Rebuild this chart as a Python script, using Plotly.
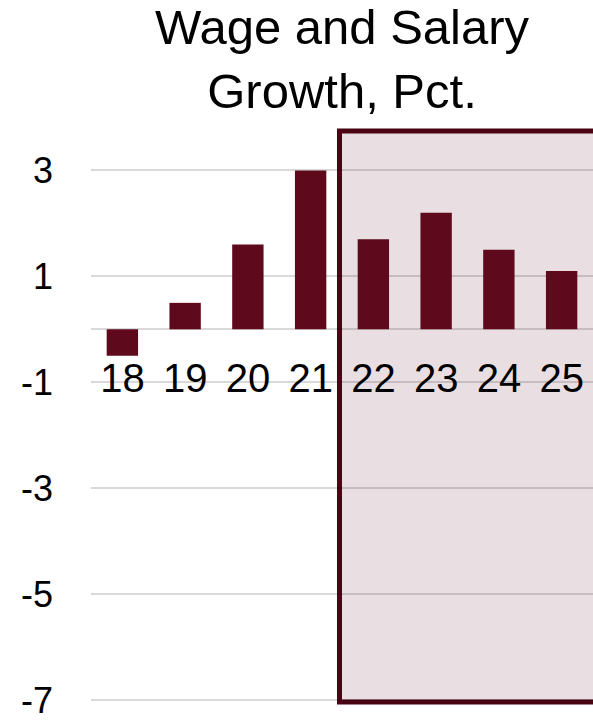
import plotly.graph_objects as go

categories = ["18", "19", "20", "21", "22", "23", "24", "25"]
growth = [-0.5, 0.5, 1.6, 3.0, 1.7, 2.2, 1.5, 1.1]
y_ticks = [3, 1, -1, -3, -5, -7]
title_text = "Wage and Salary<br>Growth, Pct."

W, H = 593, 721
ML, MR, MT, MB = 91, 0, 128, 16
ymin, ymax = -7.09, 3.8
xmin, xmax = -0.5, 7.5

fig = go.Figure()
fig.add_trace(go.Bar(
    x=list(range(len(categories))), y=growth,
    marker=dict(color="#5e0a1c", line=dict(width=0)),
    width=0.5, showlegend=False, hoverinfo="skip",
))

zero_pos = (0 - ymin) / (ymax - ymin)
fig.update_layout(
    width=W, height=H,
    margin=dict(l=ML, r=MR, t=MT, b=MB, pad=0),
    paper_bgcolor="white", plot_bgcolor="rgba(0,0,0,0)",
    font=dict(family="Liberation Sans, Arial, sans-serif", color="#000000"),
    title=dict(text=title_text, x=0.5, xref="paper", xanchor="center",
               y=1 - 44 / H, yref="container", yanchor="top",
               font=dict(size=49, color="#000000")),
    bargap=0.5,
    xaxis=dict(
        range=[xmin, xmax], tickmode="array",
        tickvals=list(range(len(categories))), ticktext=categories,
        showgrid=False, zeroline=False, showline=False, ticks="",
        anchor="free", position=zero_pos, ticklabelstandoff=22,
        tickfont=dict(size=40, color="#000000"),
    ),
    yaxis=dict(
        range=[ymin, ymax], tickmode="array", tickvals=y_ticks,
        ticktext=[str(v) for v in y_ticks],
        showgrid=True, gridcolor="rgba(0,0,0,0.15)", gridwidth=2,
        zeroline=True, zerolinecolor="rgba(0,0,0,0.15)", zerolinewidth=2,
        showline=False, ticks="", ticklabelstandoff=37,
        tickfont=dict(size=36, color="#000000"),
    ),
)

x0_paper = (3.46 - xmin) / (xmax - xmin)
fig.add_shape(
    type="rect", xref="paper", yref="paper",
    x0=x0_paper, x1=1.05, y0=3 / 577, y1=1 - 3 / 577,
    fillcolor="#e9dfe2", line=dict(color="#4a0414", width=5),
    layer="below",
)

fig.write_html(
    "out.html",
    config={"displayModeBar": False},
    post_script="document.body.style.margin='0';document.body.style.overflow='hidden';",
)
